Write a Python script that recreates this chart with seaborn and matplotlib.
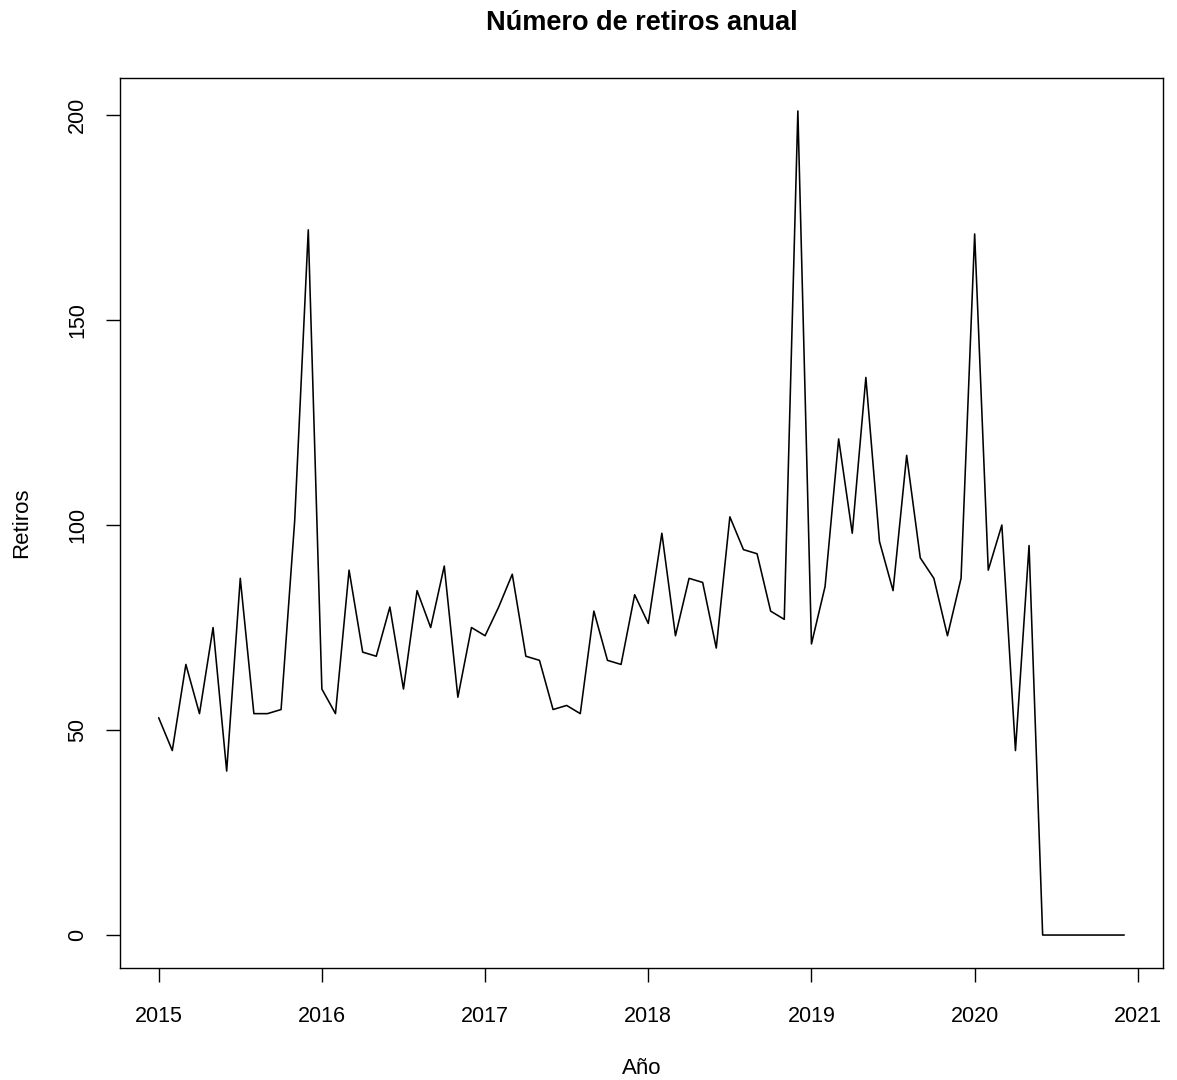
import numpy as np
import pandas as pd
import matplotlib
matplotlib.use("Agg")
import matplotlib.pyplot as plt
import seaborn as sns

# Monthly withdrawals, Jan 2015 – Dec 2020
retiros_2015 = [53, 45, 66, 54, 75, 40, 87, 54, 54, 55, 101, 172]
retiros_2016 = [60, 54, 89, 69, 68, 80, 60, 84, 75, 90, 58, 75]
retiros_2017 = [73, 80, 88, 68, 67, 55, 56, 54, 79, 67, 66, 83]
retiros_2018 = [76, 98, 73, 87, 86, 70, 102, 94, 93, 79, 77, 201]
retiros_2019 = [71, 85, 121, 98, 136, 96, 84, 117, 92, 87, 73, 87]
retiros_2020 = [171, 89, 100, 45, 95, 0, 0, 0, 0, 0, 0, 0]

x_ticks = [2015, 2016, 2017, 2018, 2019, 2020, 2021]
y_ticks = [0, 50, 100, 150, 200]

valores = (retiros_2015 + retiros_2016 + retiros_2017 +
           retiros_2018 + retiros_2019 + retiros_2020)
tiempo = 2015 + np.arange(len(valores)) / 12.0
df = pd.DataFrame({"Año": tiempo, "Retiros": valores})

sns.set_style("ticks")
plt.rcParams["font.family"] = ["Liberation Sans", "DejaVu Sans"]
plt.rcParams["text.color"] = "black"
plt.rcParams["axes.labelcolor"] = "black"
plt.rcParams["xtick.color"] = "black"
plt.rcParams["ytick.color"] = "black"

fig = plt.figure(figsize=(11.77, 10.8), dpi=100)
ax = fig.add_axes([0.102, 0.1037, 0.886, 0.8241])

sns.lineplot(data=df, x="Año", y="Retiros", ax=ax, color="black",
             linewidth=1.15, estimator=None)

# R-style 4% padding around the data range
xmin, xmax = tiempo.min(), tiempo.max()
ymin, ymax = min(valores), max(valores)
xr, yr = xmax - xmin, ymax - ymin
ax.set_xlim(xmin - 0.04 * xr, xmax + 0.04 * xr)
ax.set_ylim(ymin - 0.04 * yr, ymax + 0.04 * yr)

ax.set_xticks(x_ticks)
ax.set_xticklabels([str(t) for t in x_ticks], fontsize=15.5)
ax.set_yticks(y_ticks)
ax.set_yticklabels([str(t) for t in y_ticks], fontsize=15.5, rotation=90,
                   va="center")
ax.tick_params(axis="both", direction="out", length=10, width=1.0,
               color="black")
ax.tick_params(axis="x", pad=17)
ax.tick_params(axis="y", pad=13)

for s in ax.spines.values():
    s.set_visible(True)
    s.set_color("black")
    s.set_linewidth(1.0)

ax.set_xlabel("Año", fontsize=16, color="black", va="center")
ax.set_ylabel("Retiros", fontsize=16, color="black", va="center")
ax.xaxis.set_label_coords(0.5, (968 - 1068) / 890)
ax.yaxis.set_label_coords((22 - 120) / 1043, 0.5)

ax.set_title("Número de retiros anual", fontsize=19.5, fontweight="bold",
             color="black", y=1 + (78 - 23) / 890, pad=0, va="center")

fig.savefig("out.png", dpi=100, facecolor="white")
